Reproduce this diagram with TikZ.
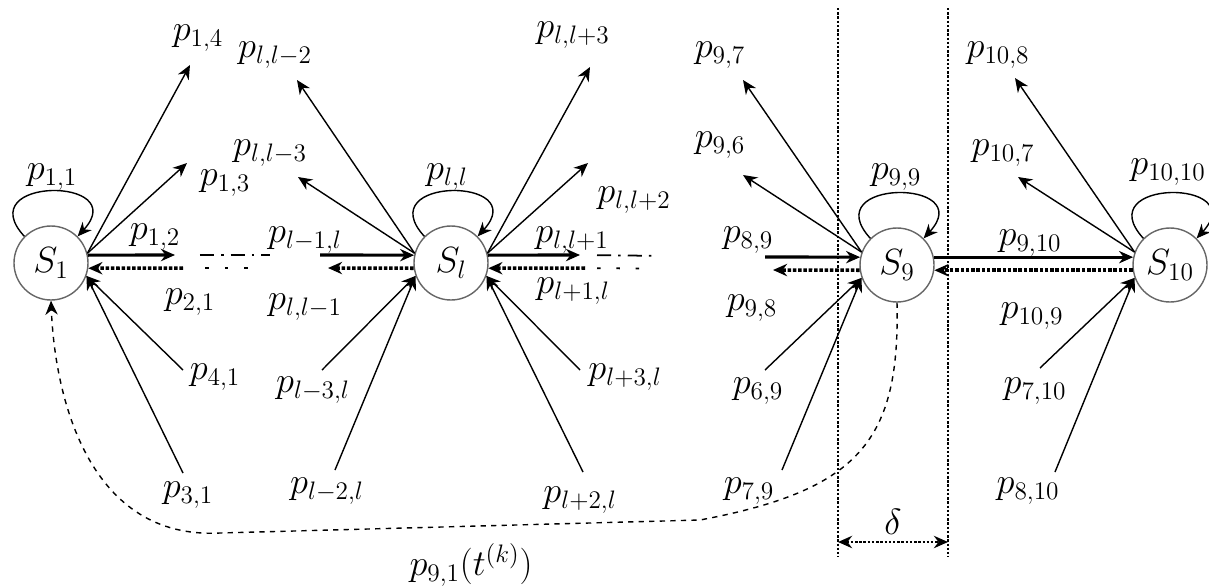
\documentclass[tikz,border=0pt]{standalone}
\usepackage{amsmath,amssymb}
\usetikzlibrary{arrows.meta}

\begin{document}
\begin{tikzpicture}[x=0.02cm, y=-0.02cm, >={Stealth[length=8pt,width=7pt]},
  every node/.style={inner sep=1pt, font=\huge},
  state/.style={circle, draw=black!60, thick, minimum size=1.48cm, inner sep=0pt},
  link/.style={->, line width=0.8pt},
  fwd/.style={->, line width=1.8pt},
  bwd/.style={->, line width=2pt, densely dotted},
  loopy/.style={->, line width=0.8pt},
  more/.style={line width=1pt, dash pattern=on 8pt off 4pt on 1.5pt off 4pt},
  few/.style={line width=1pt, dash pattern=on 2pt off 9pt},
  wall/.style={line width=1.4pt, densely dotted}]
\useasboundingbox (0,0) rectangle (1209,585);

\node[state] (s1) at (51,263) {$S_1$};
\node[state] (sl) at (451,263) {$S_l$};
\node[state] (s9) at (897,265) {$S_9$};
\node[state] (s10) at (1170,265) {$S_{10}$};

\coordinate (t14) at (190,65);
\coordinate (t13) at (187,163);
\coordinate (t12) at (175,255);
\coordinate (f21) at (183,268);
\coordinate (f41) at (183,370);
\coordinate (f31) at (183,473);
\coordinate (tlm2) at (297,80);
\coordinate (tlm3) at (298,177);
\coordinate (flm1) at (320,255);
\coordinate (tlm1) at (328,268);
\coordinate (flm3) at (322,370);
\coordinate (flm2) at (335,470);
\coordinate (tlp3) at (590,67);
\coordinate (tlp2) at (588,163);
\coordinate (tlp1) at (580,255);
\coordinate (flp1) at (585,268);
\coordinate (flp3) at (580,370);
\coordinate (flp2) at (583,472);
\coordinate (t97) at (743,80);
\coordinate (t96) at (743,175);
\coordinate (f89) at (765,257);
\coordinate (t98) at (773,270);
\coordinate (f69) at (765,370);
\coordinate (f79) at (782,470);
\coordinate (t108) at (1015,78);
\coordinate (t107) at (1018,177);
\coordinate (f710) at (1040,368);
\coordinate (f810) at (1055,472);

\draw[loopy] (s1.135) .. controls +(-55,-60) and +(55,-60) .. (s1.45);
\draw[link] (s1.15) -- (t14);
\draw[link] (s1.15) -- (t13);
\draw[fwd] (s1.12) -- (t12);
\draw[bwd] (f21) -- (s1.-8);
\draw[link] (f41) -- (s1.-20);
\draw[link] (f31) -- (s1.-20);

\draw[more, shorten <=0.5cm, shorten >=1cm] (t12) -- (flm1);
\draw[few, shorten <=0.45cm, shorten >=1.5cm] (f21) -- (tlm1);

\draw[loopy] (sl.135) .. controls +(-55,-60) and +(55,-60) .. (sl.45);
\draw[link] (sl.165) -- (tlm2);
\draw[link] (sl.165) -- (tlm3);
\draw[fwd] (flm1) -- (sl.168);
\draw[bwd] (sl.-172) -- (tlm1);
\draw[link] (flm3) -- (sl.200);
\draw[link] (flm2) -- (sl.200);
\draw[link] (sl.15) -- (tlp3);
\draw[link] (sl.15) -- (tlp2);
\draw[fwd] (sl.12) -- (tlp1);
\draw[bwd] (flp1) -- (sl.-8);
\draw[link] (flp3) -- (sl.-20);
\draw[link] (flp2) -- (sl.-20);

\draw[more, shorten <=0.34cm, shorten >=2.24cm] (tlp1) -- (f89);
\draw[few, shorten <=0.24cm, shorten >=2.46cm] (flp1) -- (t98);

\draw[loopy] (s9.135) .. controls +(-55,-60) and +(55,-60) .. (s9.45);
\draw[link] (s9.160) -- (t97);
\draw[link] (s9.160) -- (t96);
\draw[fwd] (f89) -- (s9.168);
\draw[bwd] (s9.-172) -- (t98);
\draw[link] (f69) -- (s9.200);
\draw[link] (f79) -- (s9.200);
\draw[fwd] (s9.12) -- (s10.168);
\draw[bwd] (s10.-172) -- (s9.-8);

\draw[loopy] (s10.135) .. controls +(-55,-60) and +(55,-60) .. (s10.45);
\draw[link] (s10.160) -- (t108);
\draw[link] (s10.160) -- (t107);
\draw[link] (f710) -- (s10.200);
\draw[link] (f810) -- (s10.200);

\coordinate (k1) at (700,520);
\coordinate (k2) at (220,533);
\draw[->, line width=0.8pt, dashed] (s9.south) .. controls (900,440) and (860,490) .. (k1)
  -- (k2) .. controls (90,540) and (55,400) .. (s1.south);

\coordinate (v1) at (838,8);
\coordinate (v2) at (838,557);
\coordinate (w1) at (948,8);
\coordinate (w2) at (948,557);
\draw[wall] (v1) -- (v2);
\draw[wall] (w1) -- (w2);
\coordinate (d1) at (838,542);
\coordinate (d2) at (948,542);
\draw[<->, line width=1.4pt, densely dotted] (d1) -- (d2);

\node (p11) at (52,177) {$p_{1,1}$};
\node (p14) at (198,38) {$p_{1,4}$};
\node (p13) at (225,183) {$p_{1,3}$};
\node (p12) at (155,237) {$p_{1,2}$};
\node (p21) at (190,302) {$p_{2,1}$};
\node (p41) at (215,377) {$p_{4,1}$};
\node (p31) at (188,495) {$p_{3,1}$};

\node (pll) at (447,177) {$p_{l,l}$};
\node (plm2) at (275,55) {$p_{l,l-2}$};
\node (plm3) at (270,153) {$p_{l,l-3}$};
\node (pm1l) at (305,240) {$p_{l-1,l}$};
\node (plm1) at (305,307) {$p_{l,l-1}$};
\node (pm3l) at (313,390) {$p_{l-3,l}$};
\node (pm2l) at (327,491) {$p_{l-2,l}$};
\node (plp3) at (573,35) {$p_{l,l+3}$};
\node (plp2) at (634,200) {$p_{l,l+2}$};
\node (plp1) at (572,240) {$p_{l,l+1}$};
\node (pp1l) at (573,291) {$p_{l+1,l}$};
\node (pp3l) at (625,377) {$p_{l+3,l}$};
\node (pp2l) at (580,500) {$p_{l+2,l}$};

\node (p99) at (896,177) {$p_{9,9}$};
\node (p97) at (720,55) {$p_{9,7}$};
\node (p96) at (720,145) {$p_{9,6}$};
\node (p89) at (748,240) {$p_{8,9}$};
\node (p98) at (752,308) {$p_{9,8}$};
\node (p69) at (758,391) {$p_{6,9}$};
\node (p79) at (749,491) {$p_{7,9}$};

\node (p1010) at (1168,172) {$p_{10,10}$};
\node (p108) at (998,55) {$p_{10,8}$};
\node (p107) at (1003,153) {$p_{10,7}$};
\node (p910) at (1030,243) {$p_{9,10}$};
\node (p109) at (1032,316) {$p_{10,9}$};
\node (p710) at (1035,391) {$p_{7,10}$};
\node (p810) at (1028,491) {$p_{8,10}$};

\node (pk) at (471,565) {$p_{9,1}(t^{(k)})$};
\node (dl) at (893,522) {$\delta$};
\end{tikzpicture}
\end{document}
